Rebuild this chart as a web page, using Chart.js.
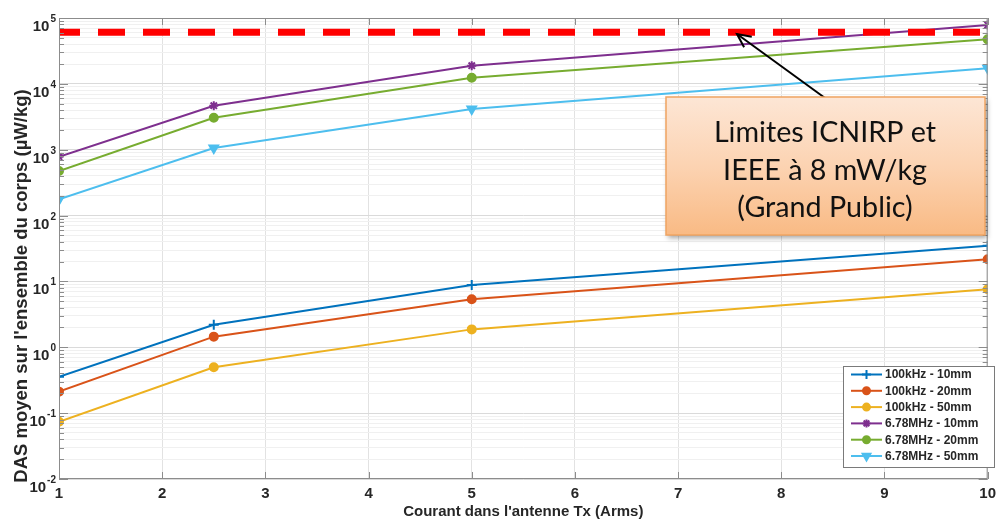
<!DOCTYPE html>
<html><head><meta charset="utf-8">
<script src="https://cdn.jsdelivr.net/npm/chart.js@4/dist/chart.umd.min.js"></script>
<style>html,body{margin:0;padding:0;background:#fff;overflow:hidden}#wrap{width:1002px;height:522px;position:relative}</style>
</head><body><div id="wrap"><canvas id="c"></canvas></div>
<script>
// ---- data ----
const currents = [1, 2.5, 5, 10];
const seriesLabels = ['100kHz - 10mm', '100kHz - 20mm', '100kHz - 50mm', '6.78MHz - 10mm', '6.78MHz - 20mm', '6.78MHz - 50mm'];
const das100k10 = [0.357, 2.20, 8.83, 34.8];
const das100k20 = [0.212, 1.45, 5.35, 21.7];
const das100k50 = [0.0741, 0.497, 1.87, 7.6];
const das678M10 = [783, 4660, 18900, 78200];
const das678M20 = [475, 3060, 12400, 47400];
const das678M50 = [176, 1062, 4150, 17200];
const limitValue = 61000;
const limitRange = [1, 10];
const xTickValues = [1, 2, 3, 4, 5, 6, 7, 8, 9, 10];
const yExponents = [-2, -1, 0, 1, 2, 3, 4, 5];
const xTitle = "Courant dans l'antenne Tx (Arms)";
const yTitle = "DAS moyen sur l'ensemble du corps (µW/kg)";
const annotationLines = ['Limites ICNIRP et', 'IEEE à 8 mW/kg', '(Grand Public)'];

// ---- styles ----
const colors = ['#0072BD', '#D95319', '#EDB120', '#7E2F8E', '#77AC30', '#4DBEEE'];
const markers = [
  {style: 'cross', r: 5, rot: 0},
  {style: 'circle', r: 4, rot: 0},
  {style: 'circle', r: 4, rot: 0},
  {style: 'star', r: 4.5, rot: 0},
  {style: 'circle', r: 4, rot: 0},
  {style: 'triangle', r: 5, rot: 180}
];
const SANS = "'Liberation Sans', Arial, sans-serif";
const TXT = '#262626';
const seriesValues = [das100k10, das100k20, das100k50, das678M10, das678M20, das678M50];

const isPow10 = v => Math.abs(Math.log10(v) - Math.round(Math.log10(v))) < 1e-6;

const datasets = seriesValues.map((vals, i) => ({
  label: seriesLabels[i],
  data: currents.map((c, j) => ({x: c, y: vals[j]})),
  borderColor: colors[i],
  backgroundColor: colors[i],
  borderWidth: 2,
  pointStyle: markers[i].style,
  pointRadius: markers[i].r,
  pointRotation: markers[i].rot,
  pointBorderWidth: 2,
  pointBorderColor: colors[i],
  pointBackgroundColor: colors[i],
  tension: 0,
  order: 1
}));
datasets.push({
  label: 'limit',
  data: limitRange.map(x => ({x, y: limitValue})),
  borderColor: '#ff0000',
  borderWidth: 7,
  borderDash: [27, 18],
  borderDashOffset: 6,
  pointRadius: 0,
  order: -1
});

const decor = {
  id: 'decor',
  afterDraw(chart) {
    const {ctx, chartArea: a, scales: {x, y}} = chart;
    ctx.save();
    // box
    ctx.strokeStyle = '#8c8c8c';
    ctx.lineWidth = 1;
    ctx.strokeRect(a.left + 0.5, a.top + 0.5, a.right - a.left - 1, a.bottom - a.top - 1);
    // inward ticks
    ctx.beginPath();
    y.ticks.forEach(t => {
      const py = Math.round(y.getPixelForValue(t.value)) + 0.5;
      const L = isPow10(t.value) ? 9 : 5;
      ctx.moveTo(a.left, py); ctx.lineTo(a.left + L, py);
      ctx.moveTo(a.right, py); ctx.lineTo(a.right - L, py);
    });
    x.ticks.forEach(t => {
      const px = Math.round(x.getPixelForValue(t.value)) + 0.5;
      ctx.moveTo(px, a.bottom); ctx.lineTo(px, a.bottom - 7);
      ctx.moveTo(px, a.top); ctx.lineTo(px, a.top + 7);
    });
    ctx.stroke();
    // y tick labels with superscript
    ctx.fillStyle = TXT;
    yExponents.forEach(e => {
      const py = y.getPixelForValue(Math.pow(10, e));
      const exp = String(e);
      ctx.font = 'bold 10px ' + SANS;
      const ew = ctx.measureText(exp).width;
      ctx.font = 'bold 15px ' + SANS;
      const bw = ctx.measureText('10').width;
      const right = 56;
      ctx.textAlign = 'left';
      ctx.textBaseline = 'alphabetic';
      ctx.fillText('10', right - ew - bw - 1, py + 13);
      ctx.font = 'bold 10px ' + SANS;
      ctx.fillText(exp, right - ew, py + 4);
    });
    // axis titles
    ctx.textAlign = 'center';
    ctx.textBaseline = 'middle';
    ctx.font = 'bold 15px ' + SANS;
    ctx.fillText(xTitle, (a.left + a.right) / 2, 512);
    ctx.save();
    ctx.translate(22, 286);
    ctx.rotate(-Math.PI / 2);
    ctx.font = 'bold 18.5px ' + SANS;
    ctx.fillText(yTitle, 0, 0);
    ctx.restore();
    // legend
    const lx = 843, ly = 366, lw = 151, lh = 101;
    ctx.fillStyle = '#ffffff';
    ctx.fillRect(lx, ly, lw, lh);
    ctx.strokeStyle = '#7a7a7a';
    ctx.lineWidth = 1;
    ctx.strokeRect(lx + 0.5, ly + 0.5, lw, lh);
    chart.data.datasets.forEach((ds, i) => {
      if (i >= seriesLabels.length) return;
      const cy = 374.5 + i * 16.3;
      ctx.strokeStyle = ds.borderColor;
      ctx.fillStyle = ds.borderColor;
      ctx.lineWidth = 2;
      ctx.beginPath(); ctx.moveTo(851, cy); ctx.lineTo(882, cy); ctx.stroke();
      Chart.helpers.drawPoint(ctx, {pointStyle: ds.pointStyle, rotation: ds.pointRotation, radius: ds.pointRadius - 0.5, borderWidth: 2}, 866.5, cy);
      ctx.fillStyle = TXT;
      ctx.font = 'bold 12px ' + SANS;
      ctx.textAlign = 'left';
      ctx.textBaseline = 'middle';
      ctx.fillText(ds.label, 885, cy + 0.5);
    });
    // annotation arrow
    ctx.strokeStyle = '#000';
    ctx.lineWidth = 2;
    const x0 = 825, y0 = 98, x1 = 737, y1 = 34;
    ctx.beginPath(); ctx.moveTo(x0, y0); ctx.lineTo(x1, y1); ctx.stroke();
    const ang = Math.atan2(y1 - y0, x1 - x0);
    ctx.beginPath();
    ctx.moveTo(x1 - 15 * Math.cos(ang - 0.45), y1 - 15 * Math.sin(ang - 0.45));
    ctx.lineTo(x1, y1);
    ctx.lineTo(x1 - 15 * Math.cos(ang + 0.45), y1 - 15 * Math.sin(ang + 0.45));
    ctx.stroke();
    // annotation box
    const bx = 666, by = 97, bw = 319, bh = 138;
    ctx.save();
    ctx.shadowColor = 'rgba(0,0,0,0.35)';
    ctx.shadowBlur = 5; ctx.shadowOffsetX = 2; ctx.shadowOffsetY = 3;
    const g = ctx.createLinearGradient(0, by, 0, by + bh);
    g.addColorStop(0, '#fde6d5'); g.addColorStop(0.5, '#fcd3b2'); g.addColorStop(1, '#f9ba84');
    ctx.fillStyle = g;
    ctx.fillRect(bx, by, bw, bh);
    ctx.restore();
    ctx.strokeStyle = '#f0a462';
    ctx.lineWidth = 1.5;
    ctx.strokeRect(bx, by, bw, bh);
    ctx.fillStyle = '#111';
    ctx.textAlign = 'center';
    ctx.textBaseline = 'middle';
    let fs = 30;
    ctx.font = fs + "px Lato, 'Open Sans', sans-serif";
    const w0 = ctx.measureText(annotationLines[0]).width;
    fs = fs * 222 / w0;
    ctx.font = fs.toFixed(1) + "px Lato, 'Open Sans', sans-serif";
    annotationLines.forEach((t, i) => ctx.fillText(t, 825, 133 + i * 37.5));
    ctx.restore();
  }
};

new Chart(document.getElementById('c'), {
  type: 'line',
  data: {datasets},
  options: {
    responsive: true,
    maintainAspectRatio: false,
    animation: false,
    events: [],
    layout: {padding: {top: 18, right: 7, left: 0, bottom: 0}},
    plugins: {legend: {display: false}, tooltip: {enabled: false}},
    scales: {
      x: {
        type: 'linear', min: 1, max: 10,
        afterBuildTicks: s => { s.ticks = xTickValues.map(v => ({value: v})); },
        afterFit: s => { s.height = 43; },
        ticks: {color: TXT, font: {family: SANS, size: 15, weight: 'bold'}, padding: 6, maxRotation: 0, autoSkip: false},
        grid: {color: '#e2e2e2', drawTicks: false},
        border: {display: false},
        title: {display: false}
      },
      y: {
        type: 'logarithmic', min: Math.pow(10, yExponents[0]), max: Math.pow(10, yExponents[yExponents.length - 1]),
        afterBuildTicks: s => {
          const t = [];
          yExponents.forEach(e => { for (let m = 1; m <= 9; m++) { const v = Number((m * Math.pow(10, e)).toPrecision(4)); if (v <= s.max * 1.0001) t.push({value: v}); } });
          s.ticks = t;
        },
        afterFit: s => { s.width = 59; },
        ticks: {display: false, autoSkip: false},
        grid: {color: c => (c.tick && isPow10(c.tick.value)) ? '#dadada' : '#f0f0f0', drawTicks: false},
        border: {display: false},
        title: {display: false}
      }
    }
  },
  plugins: [decor]
});
</script></body></html>
